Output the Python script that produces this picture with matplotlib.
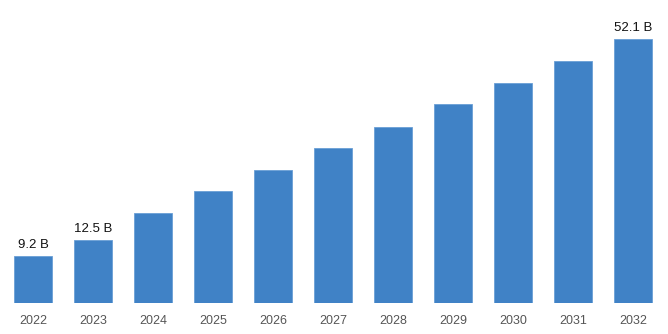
import matplotlib.pyplot as plt

years = ['2022', '2023', '2024', '2025', '2026', '2027', '2028', '2029', '2030', '2031', '2032']
values = [9.2, 12.5, 17.8, 22.1, 26.2, 30.6, 34.7, 39.3, 43.4, 47.8, 52.1]
labels = {0: '9.2 B', 1: '12.5 B', 10: '52.1 B'}

plt.rcParams['font.family'] = ['Liberation Sans', 'DejaVu Sans']

fig = plt.figure(figsize=(6.68, 3.34), dpi=100)
ax = fig.add_axes([0, 31 / 334, 1, 303 / 334])

x = list(range(len(years)))
ax.bar(x, values, width=0.64, color='#4082c6', edgecolor='#6a9fd6', linewidth=0.6)

for i, txt in labels.items():
    ax.text(i, values[i] + 1.0, txt, ha='center', va='bottom', fontsize=9.5, color='#111111')

ax.set_xlim(-0.55, 10.583)
ax.set_ylim(0, 303 / 5.067)
ax.set_xticks(x)
ax.set_xticklabels(years, fontsize=9, color='#555555')
ax.tick_params(axis='x', length=0, pad=9)
ax.set_yticks([])
for s in ax.spines.values():
    s.set_visible(False)

fig.savefig('out.png', dpi=100)
